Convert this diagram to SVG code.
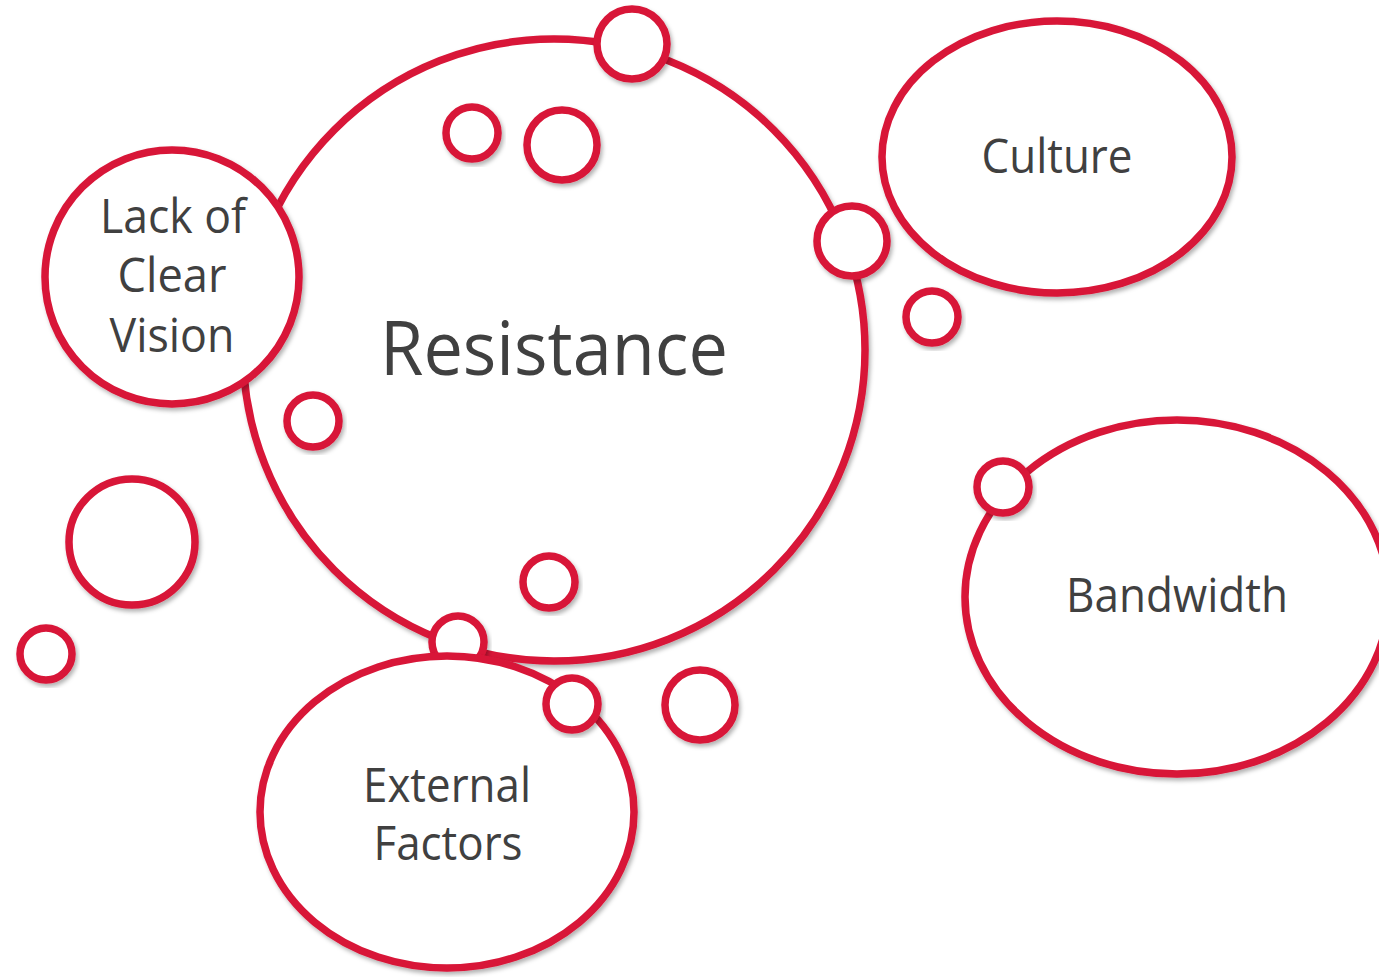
<svg xmlns="http://www.w3.org/2000/svg" width="1379" height="977" viewBox="0 0 1379 977">
  <defs>
    <filter id="shadow" x="-10%" y="-10%" width="125%" height="125%">
      <feDropShadow dx="2" dy="3" stdDeviation="2" flood-color="#000" flood-opacity="0.3"/>
    </filter>
    <style>
      .bubble { fill: #ffffff; stroke: #d81638; stroke-width: 7.5; filter: url(#shadow); }
      .label { font-family: "Open Sans", "Liberation Sans", sans-serif; fill: #404040; text-anchor: middle; }
      .mid { font-size: 47px; }
      .big { font-size: 75px; }
    </style>
  </defs>
  <rect width="1379" height="977" fill="#ffffff"/>

  <!-- main bubble -->
  <g id="resistance">
    <circle class="bubble" cx="554" cy="350" r="311"/>
    <text class="label big" x="554" y="375" textLength="348" lengthAdjust="spacingAndGlyphs">Resistance</text>
  </g>

  <g id="lack-of-clear-vision">
    <circle class="bubble" cx="172" cy="277" r="127"/>
    <text class="label mid" x="173" y="233" textLength="146" lengthAdjust="spacingAndGlyphs">Lack of</text>
    <text class="label mid" x="172" y="292" textLength="109" lengthAdjust="spacingAndGlyphs">Clear</text>
    <text class="label mid" x="172" y="352" textLength="125" lengthAdjust="spacingAndGlyphs">Vision</text>
  </g>

  <g id="culture">
    <ellipse class="bubble" cx="1057" cy="157" rx="175" ry="136"/>
    <text class="label mid" x="1057" y="173" textLength="151" lengthAdjust="spacingAndGlyphs">Culture</text>
  </g>

  <g id="bandwidth">
    <ellipse class="bubble" cx="1177" cy="597" rx="212" ry="177"/>
    <text class="label mid" x="1177" y="612" textLength="222" lengthAdjust="spacingAndGlyphs">Bandwidth</text>
  </g>

  <!-- bubble tucked behind the External Factors ellipse -->
  <g id="bubble-under-external">
    <circle class="bubble" cx="458" cy="642" r="26"/>
  </g>

  <g id="external-factors">
    <ellipse class="bubble" cx="447" cy="812" rx="187" ry="156"/>
    <text class="label mid" x="447" y="802" textLength="168" lengthAdjust="spacingAndGlyphs">External</text>
    <text class="label mid" x="448" y="860" textLength="149" lengthAdjust="spacingAndGlyphs">Factors</text>
  </g>

  <!-- small decorative bubbles -->
  <g id="small-bubbles">
    <circle class="bubble" cx="632" cy="44" r="35"/>
    <circle class="bubble" cx="472" cy="133" r="26"/>
    <circle class="bubble" cx="562" cy="145" r="35"/>
    <circle class="bubble" cx="852" cy="241" r="35"/>
    <circle class="bubble" cx="932" cy="317" r="26"/>
    <circle class="bubble" cx="313" cy="421" r="26"/>
    <circle class="bubble" cx="132" cy="542" r="63"/>
    <circle class="bubble" cx="46" cy="654" r="26"/>
    <circle class="bubble" cx="549" cy="582" r="26"/>
    <circle class="bubble" cx="572" cy="704" r="26"/>
    <circle class="bubble" cx="700" cy="705" r="35"/>
    <circle class="bubble" cx="1003" cy="487" r="26"/>
  </g>

  <!-- no connectors: bubbles only touch or overlap -->
  <g id="connectors"/>
</svg>
